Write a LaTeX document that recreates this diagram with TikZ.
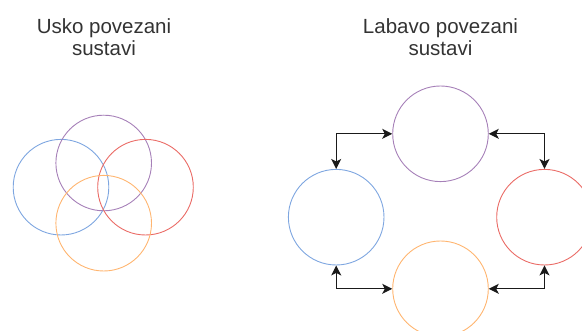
\documentclass[tikz,border=0pt]{standalone}
\usepackage{fontspec}
\setmainfont{Liberation Sans}
\usetikzlibrary{arrows.meta}
\definecolor{cblue}{HTML}{7EA6E0}
\definecolor{cpurple}{HTML}{A680B8}
\definecolor{cred}{HTML}{EA6B66}
\definecolor{corange}{HTML}{FFB570}
\definecolor{ctext}{HTML}{333333}
\definecolor{carrow}{HTML}{1A1A1A}
\begin{document}
\begin{tikzpicture}[x=1pt,y=-1pt,
  ring/.style={circle,draw,line width=0.9pt,minimum size=95.6pt,inner sep=0pt},
  title/.style={align=center,text=ctext,font=\fontsize{20.5}{21.5}\selectfont,inner sep=0pt},
  link/.style={draw=carrow,line width=1.1pt,{Stealth[length=10pt,width=10pt,inset=2.5pt]}-{Stealth[length=10pt,width=10pt,inset=2.5pt]}}]
\useasboundingbox (0,0) rectangle (582,331);
% titles
\node[title] (t1) at (104,37) {Usko povezani\\sustavi};
\node[title] (t2) at (440.5,37) {Labavo povezani\\sustavi};
% tightly coupled
\node[ring,draw=cblue] (lb) at (61,187.2) {};
\node[ring,draw=cpurple] (lp) at (103.7,163) {};
\node[ring,draw=cred] (lr) at (145.5,187.2) {};
\node[ring,draw=corange] (lo) at (103.7,223.2) {};
% loosely coupled
\node[ring,draw=cpurple] (p) at (440.5,133.8) {};
\node[ring,draw=cblue] (b) at (336.2,217.2) {};
\node[ring,draw=cred] (r) at (544.5,217.2) {};
\node[ring,draw=corange] (o) at (440.5,288.8) {};
\draw[link] (p.west) -| (b.north);
\draw[link] (p.east) -| (r.north);
\draw[link] (o.west) -| (b.south);
\draw[link] (o.east) -| (r.south);
\end{tikzpicture}
\end{document}
